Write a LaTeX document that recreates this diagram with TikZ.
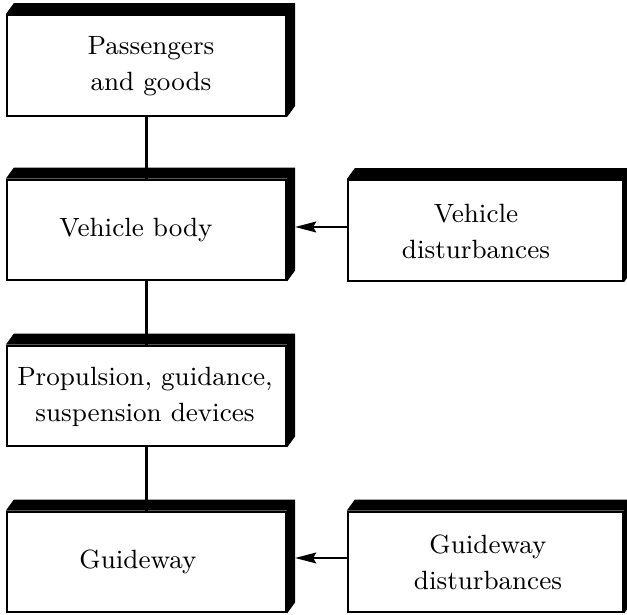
\documentclass[tikz,border=0pt]{standalone}
\usetikzlibrary{arrows.meta,backgrounds,calc}
\begin{document}
\begin{tikzpicture}[x={(0.3333pt,0)},y={(0,-0.3333pt)},
  blk/.style={draw,line width=0.75pt,rectangle,align=center,inner sep=0pt,
    minimum width=93pt,minimum height=33.5pt,font=\fontsize{8.8}{12}\selectfont},
  rblk/.style={blk,minimum width=91.7pt},
  conn/.style={line width=0.75pt},
  arr/.style={line width=0.75pt,-{Stealth[length=7pt,width=3.6pt,inset=1pt]}}]
\useasboundingbox (0,0) rectangle (627,615);
\node[blk] (pass) at (146.5,65.5) {};
\node[blk] (body) at (146.5,230) {};
\node[blk] (prop) at (146.5,396) {};
\node[blk] (guide) at (146.5,562) {};
\node[rblk] (vdist) at (485.5,230.5) {};
\node[rblk] (gdist) at (485.5,562) {};
\node[align=center,font=\fontsize{8.8}{12}\selectfont] (t1) at (151,66) {Passengers\\and goods};
\node[font=\fontsize{8.8}{12}\selectfont] (t2) at (136,230) {Vehicle body};
\node[align=center,font=\fontsize{8.8}{12}\selectfont] (t3) at (145,397) {Propulsion, guidance,\\suspension devices};
\node[font=\fontsize{8.8}{12}\selectfont] (t4) at (138,562) {Guideway};
\node[align=center,font=\fontsize{8.8}{12}\selectfont] (t5) at (476,231) {Vehicle\\disturbances};
\node[align=center,font=\fontsize{8.8}{12}\selectfont] (t6) at (488,562) {Guideway\\disturbances};
\begin{scope}[on background layer]
\foreach \n in {pass,body,prop,guide,vdist,gdist}{
  \fill (\n.north west) -- ++(8,-11) -- ($(\n.north east)+(8,-11)$)
    -- ($(\n.south east)+(8,-11)$) -- (\n.south east) -- (\n.north east) -- cycle;
}
\end{scope}
\draw[conn] (pass.south) -- (body.north);
\draw[conn] (body.south) -- (prop.north);
\draw[conn] (prop.south) -- (guide.north);
\coordinate (e1) at ($(body.east)+(8,-3)$);
\coordinate (e2) at ($(guide.east)+(8,-4)$);
\draw[arr] (vdist.west |- e1) -- (e1);
\draw[arr] (gdist.west |- e2) -- (e2);
\end{tikzpicture}
\end{document}
